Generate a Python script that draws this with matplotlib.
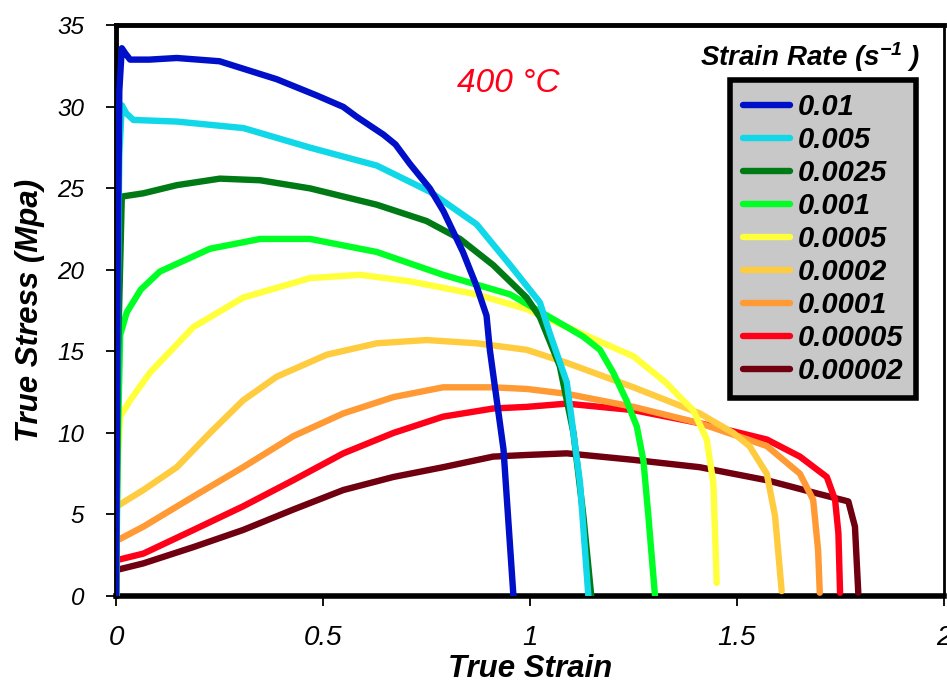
import matplotlib
matplotlib.use("Agg")
import matplotlib.pyplot as plt
from matplotlib.lines import Line2D

plt.rcParams['font.family'] = ['Liberation Sans', 'DejaVu Sans']
plt.rcParams['mathtext.default'] = 'regular'

rates = ["0.01", "0.005", "0.0025", "0.001", "0.0005", "0.0002", "0.0001", "0.00005", "0.00002"]
colors = ["#0010c8", "#10d8e8", "#007a14", "#00ff24", "#ffff3c", "#ffcc40", "#ff9a34", "#ff0018", "#700010"]

x_001 = [0, 0.004, 0.008, 0.014, 0.022, 0.034, 0.08, 0.147, 0.25, 0.388, 0.485, 0.549, 0.581, 0.646, 0.675, 0.71, 0.758, 0.791, 0.823, 0.838, 0.871, 0.895, 0.903, 0.936, 0.96]
y_001 = [0, 20, 31, 33.6, 33.3, 32.9, 32.9, 33.0, 32.8, 31.7, 30.7, 30.0, 29.4, 28.3, 27.7, 26.5, 25.0, 23.6, 21.9, 21.1, 19.0, 17.2, 15.1, 9.0, 0]

x_0005 = [0, 0.004, 0.008, 0.014, 0.025, 0.042, 0.147, 0.308, 0.469, 0.63, 0.758, 0.871, 0.952, 1.024, 1.048, 1.089, 1.121, 1.141]
y_0005 = [0, 18, 27, 30.1, 29.6, 29.2, 29.1, 28.7, 27.5, 26.4, 24.8, 22.8, 20.3, 18.0, 16.1, 13.1, 6.9, 0]

x_00025 = [0, 0.005, 0.014, 0.066, 0.147, 0.251, 0.348, 0.469, 0.63, 0.75, 0.831, 0.911, 0.992, 1.024, 1.072, 1.105, 1.129, 1.148]
y_00025 = [0, 15, 24.5, 24.7, 25.2, 25.6, 25.5, 25.0, 24.0, 23.0, 21.9, 20.3, 18.3, 17.1, 14.1, 10.0, 4.9, 0]

x_0001 = [0, 0.005, 0.01, 0.026, 0.06, 0.106, 0.227, 0.348, 0.469, 0.63, 0.79, 0.952, 1.089, 1.129, 1.169, 1.201, 1.233, 1.258, 1.274, 1.286, 1.302]
y_0001 = [0, 10, 16.0, 17.4, 18.8, 19.9, 21.3, 21.9, 21.9, 21.1, 19.7, 18.5, 16.5, 15.9, 15.1, 13.7, 12.0, 10.4, 8.3, 4.9, 0]

x_00005 = [0, 0.003, 0.01, 0.034, 0.082, 0.187, 0.307, 0.469, 0.589, 0.71, 0.871, 0.992, 1.089, 1.25, 1.33, 1.362, 1.394, 1.427, 1.443, 1.451]
y_00005 = [0, 8, 11.0, 12.0, 13.7, 16.5, 18.3, 19.5, 19.7, 19.3, 18.5, 17.6, 16.5, 14.7, 13.05, 12.2, 11.4, 9.6, 6.9, 0.8]

x_00002 = [0, 0.002, 0.066, 0.147, 0.227, 0.307, 0.388, 0.509, 0.63, 0.75, 0.871, 0.992, 1.089, 1.25, 1.41, 1.491, 1.53, 1.572, 1.592, 1.608]
y_00002 = [0, 5.5, 6.5, 7.9, 10.0, 12.0, 13.45, 14.8, 15.5, 15.7, 15.5, 15.1, 14.3, 12.8, 11.2, 10.0, 9.2, 7.5, 4.9, 0.3]

x_00001 = [0, 0.002, 0.066, 0.187, 0.307, 0.428, 0.549, 0.67, 0.79, 0.911, 0.992, 1.089, 1.25, 1.41, 1.572, 1.652, 1.684, 1.696, 1.70]
y_00001 = [0, 3.4, 4.25, 6.1, 7.9, 9.8, 11.2, 12.2, 12.8, 12.8, 12.7, 12.4, 11.6, 10.6, 9.2, 7.5, 5.9, 2.8, 0.2]

x_000005 = [0, 0.002, 0.066, 0.187, 0.307, 0.428, 0.549, 0.67, 0.79, 0.911, 0.992, 1.089, 1.25, 1.41, 1.572, 1.652, 1.717, 1.737, 1.745, 1.749]
y_000005 = [0, 2.2, 2.6, 4.05, 5.5, 7.1, 8.75, 10.0, 11.0, 11.5, 11.6, 11.8, 11.4, 10.6, 9.6, 8.55, 7.3, 5.9, 3.85, 0.2]

x_000002 = [0, 0.002, 0.066, 0.187, 0.307, 0.428, 0.549, 0.67, 0.79, 0.911, 0.992, 1.089, 1.25, 1.41, 1.572, 1.692, 1.769, 1.785, 1.793]
y_000002 = [0, 1.6, 2.0, 3.0, 4.05, 5.3, 6.5, 7.3, 7.9, 8.55, 8.65, 8.75, 8.35, 7.9, 7.1, 6.3, 5.8, 4.25, 0.2]

series = [(x_001, y_001), (x_0005, y_0005), (x_00025, y_00025), (x_0001, y_0001),
          (x_00005, y_00005), (x_00002, y_00002), (x_00001, y_00001),
          (x_000005, y_000005), (x_000002, y_000002)]

xticks = [0, 0.5, 1, 1.5, 2]
xticklabels = ["0", "0.5", "1", "1.5", "2"]
yticks = [0, 5, 10, 15, 20, 25, 30, 35]

fig = plt.figure(figsize=(9.47, 6.86), dpi=100)
ax = fig.add_axes([0.1225, 0.1312, 0.8743, 0.8318])

for i in reversed(range(len(series))):
    xs, ys = series[i]
    ax.plot(xs, ys, color=colors[i], lw=4.6, solid_capstyle='round',
            solid_joinstyle='round', zorder=3 + (9 - i) * 0.01)

ax.set_xlim(0, 2)
ax.set_ylim(0, 35)
ax.set_xticks(xticks)
ax.set_xticklabels(xticklabels)
ax.set_yticks(yticks)
for lbl in ax.get_xticklabels():
    lbl.set_fontstyle('italic')
    lbl.set_fontsize(20)
for lbl in ax.get_yticklabels():
    lbl.set_fontstyle('italic')
    lbl.set_fontsize(17.5)
ax.tick_params(axis='x', direction='out', length=7, width=1.3, pad=14)
ax.tick_params(axis='y', direction='out', length=7, width=1.3, pad=16)
ax.spines['left'].set_linewidth(3.5)
ax.spines['bottom'].set_linewidth(4)
ax.spines['top'].set_linewidth(3.5)
ax.spines['right'].set_linewidth(2)

ax.set_xlabel("True Strain", fontsize=22.5, fontweight='bold', fontstyle='italic', va='center')
ax.xaxis.set_label_coords(0.5, -0.128)
ax.set_ylabel("True Stress (Mpa)", fontsize=22.5, fontweight='bold', fontstyle='italic',
              va='center', ha='center')
ax.yaxis.set_label_coords(-0.104, 0.5)

ax.text(0.474, 0.898, "400 °C", transform=ax.transAxes, color='#ff0018', fontsize=24,
        fontstyle='italic', ha='center', va='center')

handles = [Line2D([0], [0], color=c, lw=4.6, solid_capstyle='round') for c in colors]
leg = ax.legend(handles, rates, loc='upper left', bbox_to_anchor=(0.742, 0.904),
                fontsize=21, handlelength=1.6, handletextpad=0.25, labelspacing=0.17,
                borderpad=0.45, borderaxespad=0, frameon=True, fancybox=False,
                facecolor='#c8c8c8', edgecolor='black', framealpha=1)
leg.get_frame().set_linewidth(4)
for t in leg.get_texts():
    t.set_fontweight('bold')
    t.set_fontstyle('italic')
leg.set_zorder(10)

ax.text(0.838, 0.945, "Strain Rate (s$^{-1}$ )", transform=ax.transAxes, fontsize=20,
        fontweight='bold', fontstyle='italic', ha='center', va='center')

fig.savefig("out.png", dpi=100)
